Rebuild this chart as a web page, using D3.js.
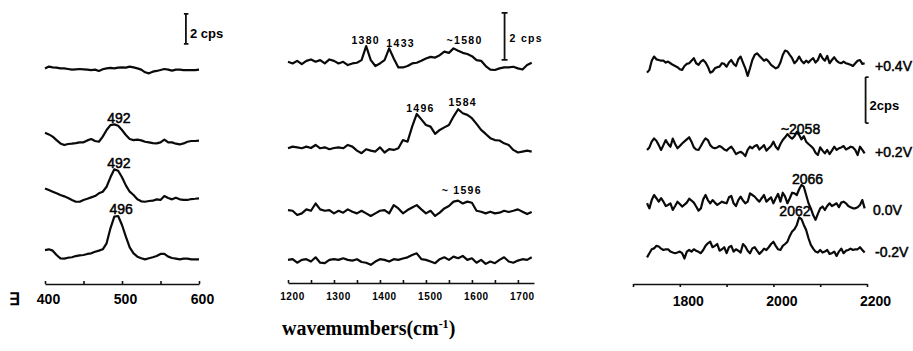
<!DOCTYPE html>
<html>
<head>
<meta charset="utf-8">
<script src="https://cdn.jsdelivr.net/npm/d3@7"></script>
<style>
  body { margin: 0; background: #fff; }
  svg { display: block; }
  text { font-family: "Liberation Sans", Arial, sans-serif; fill: #000; }
</style>
</head>
<body>
<svg id="chart" width="913" height="351"></svg>
<script>
// ---- data (intensity in cps) ----

// panel 1 : 400 - 600 cm-1
const wn1 = d3.range(400, 601, 5);
const p1Top = [0.04,0.16,0.11,0.09,0.04,0.04,0,-0.04,-0.02,0,
  -0.02,-0.04,-0.07,-0.04,-0.13,-0.02,0.04,0.07,0.04,0.09,
  0.11,0.09,0.16,0.11,0.04,-0.04,-0.22,-0.29,-0.18,-0.13,
  -0.07,0,-0.04,-0.11,-0.04,-0.04,-0.07,-0.07,-0.07,-0.07,-0.04];
const p1Second = [0.62,0.51,0.36,0.13,-0.09,-0.2,-0.13,-0.11,-0.07,-0.02,
  -0.02,0.11,0.2,0.07,0.02,0.36,0.8,1.13,1.18,1.09,
  0.8,0.47,0.2,0.13,0.16,0.11,0.02,-0.02,-0.07,-0.09,
  -0.02,0.16,-0.02,-0.02,-0.11,-0.16,-0.09,0.02,0.07,0.07,0.09];
const p1Third = [0.73,0.62,0.51,0.4,0.29,0.2,0.09,-0.04,-0.16,-0.16,
  -0.04,0.04,0.13,0.22,0.4,0.51,0.84,1.47,2.0,1.91,
  1.47,0.93,0.51,0.29,0,-0.13,-0.16,-0.11,-0.09,0,
  -0.04,0.22,0.09,0,0.11,0,-0.04,-0.04,0.02,0.04,0.07];
const p1Bottom = [0.44,0.49,0.4,0.11,-0.11,-0.13,-0.07,-0.04,0.04,0.09,
  0.11,0.18,0.22,0.33,0.4,0.49,0.89,1.89,2.67,2.71,
  2.11,1.33,0.62,0.22,0,-0.11,-0.18,-0.11,-0.04,0.04,
  0.18,0.18,0,-0.09,-0.13,-0.18,-0.13,-0.13,-0.18,-0.18,-0.18];
const p1Offsets = [13.4, 8.53, 4.71, 0.89];
const p1Major = [400, 500, 600];
const p1Minor = [450, 550];
const p1Labels = [["492", 496, 9.8], ["492", 496, 6.8], ["496", 499, 3.73]];

// panel 2 : 1200 - 1735 cm-1
const wn2 = d3.range(1200, 1731, 10);
const p2Top = [0,-0.07,0.04,-0.1,0.04,0.1,0,0.07,-0.07,0.1,
  0.04,-0.07,0,-0.14,-0.07,-0.04,0.07,0.67,0.07,-0.18,
  -0.07,0.07,0.57,0.14,-0.24,-0.24,-0.18,-0.07,-0.04,0.04,
  0.14,0.21,0.18,0.28,0.43,0.38,0.57,0.47,0.38,0.33,
  0.24,0.07,0.04,-0.18,-0.33,-0.35,-0.28,-0.24,-0.24,-0.21,
  -0.28,-0.33,-0.14,-0.04];
const p2Second = [0,0.07,0.04,0,0.07,0.01,0.14,0,0.04,-0.04,
  0.01,0.04,0,0.14,0.07,-0.1,-0.21,-0.04,-0.1,-0.14,
  0.04,-0.18,-0.04,-0.07,0,0.35,0.28,0.92,1.46,1.23,
  0.99,0.92,0.61,0.78,0.89,0.99,1.35,1.66,1.49,1.42,
  1.28,1.04,0.78,0.61,0.43,0.35,0.33,0.21,0.14,-0.07,
  -0.18,-0.14,-0.1,-0.14];
const p2Third = [0.07,0.04,-0.14,-0.07,0.1,0.04,0.35,0.1,0.04,0.07,
  -0.07,0.04,-0.04,0.1,0,-0.07,0.04,-0.07,-0.18,-0.07,
  0.04,0.07,-0.07,0.28,0.14,-0.07,0.07,0.18,0.28,0.1,
  -0.07,0.04,-0.18,-0.04,0.14,0.24,0.43,0.47,0.35,0.43,
  0.38,0.04,0,-0.07,0,-0.07,-0.04,0.04,-0.01,0.04,
  0.1,0,-0.1,-0.01];
const p2Bottom = [0.03,0.06,-0.09,0.03,0.06,-0.04,0.14,-0.09,-0.11,0.03,
  0.06,0.03,0.1,0.03,0,0.06,-0.06,-0.09,-0.18,-0.04,
  0.06,0.03,-0.04,0.06,0.03,0.09,0.14,0.24,0.31,0.06,
  0.03,-0.04,-0.11,0.06,0.14,0.03,0.17,0.1,0.2,0.03,
  0.1,-0.09,0.03,-0.14,-0.04,-0.11,0.03,0.14,-0.04,-0.09,
  0,0.06,0.03,0.14];
const p2Offsets = [8.86, 5.18, 2.48, 0.40];
const p2Major = [1200, 1300, 1400, 1500, 1600, 1700];
const p2Minor = [1250, 1350, 1450, 1550, 1650];
const p2Labels = [["1380", 1369, 9.62], ["1433", 1445, 9.49], ["~1580", 1584, 9.62],
  ["1496", 1488, 6.72], ["1584", 1580, 6.98], ["~ 1596", 1578, 3.23]];

// panel 3 : 1700 - 2200 cm-1
const wn3 = d3.range(1730, 2196, 5);
const p3Plus04 = [-0.38,-0.26,0.14,0.32,0.2,0.17,0.14,0.14,0.06,0.1,
  0.03,-0.04,-0.09,-0.14,-0.23,-0.26,-0.09,0,0.03,0.14,
  0.25,0.03,-0.04,0.1,0.17,0.06,-0.12,-0.38,-0.33,-0.19,
  -0.14,-0.12,0.03,0,-0.12,0.06,0.17,0,-0.09,0.2,
  0.32,0.06,-0.19,-0.52,-0.19,0.17,0.39,0.46,0.35,0.25,
  0.14,0.2,0.1,-0.04,-0.12,-0.19,-0.14,0.06,0.39,0.58,
  0.54,0.39,0.25,0.03,0.14,0.32,0.14,0.03,0.14,0.06,
  0.17,0.25,0.06,0.17,0.43,0.25,0.14,0.35,0.03,0.17,
  0.29,0.14,0.06,0.03,0.1,0.03,0,-0.04,-0.09,0.03,
  0.14,0.17,0,0.03];
const p3Plus02 = [-0.14,-0.03,0.22,0.36,0.26,0.07,-0.14,0.07,0.29,0.12,
  0,0.35,0.12,-0.07,0.03,0.14,0.23,0.32,0.41,0.22,
  -0.03,-0.12,-0.14,0.03,0.22,0.36,0.29,0.07,-0.03,-0.07,
  -0.03,0.03,-0.03,-0.12,-0.17,-0.07,0,-0.14,-0.32,-0.26,
  -0.22,-0.29,-0.41,-0.14,0,-0.07,0.03,0.07,-0.12,-0.03,
  0.07,-0.17,-0.07,0.03,0.22,0,-0.12,0.12,0.29,0.41,
  0.55,0.43,0.35,0.46,0.64,0.51,0.32,0.46,0.22,0.12,
  0.03,-0.07,-0.26,-0.36,-0.03,-0.17,-0.29,-0.14,-0.32,-0.17,
  0,-0.14,-0.07,-0.03,0.03,-0.12,-0.07,0,-0.03,-0.14,
  -0.36,0,-0.14,-0.29];
const p3Zero = [0,-0.22,0.14,0.36,0.22,0.07,0.22,0.07,-0.12,-0.07,
  0,-0.29,-0.12,0.07,-0.03,-0.14,-0.06,0.03,0.2,0.12,
  0.03,-0.14,-0.32,-0.22,0.17,0.36,0.14,0,0.14,0.03,
  -0.07,0,0.07,0.03,0,0.26,0.32,0,-0.12,0.14,
  0.29,0.12,0,0.07,0.43,0.36,0.29,0.17,0.07,0.22,
  0.36,0.07,0.17,0.26,0,0.22,0.41,0.07,0.46,0.29,
  0,0.22,0.46,0.43,0.36,0.61,0.8,0.72,0.36,0,
  -0.22,-0.51,-0.72,-0.46,-0.22,-0.14,-0.29,-0.12,0,-0.12,
  -0.06,0,-0.17,0.03,0.07,0,-0.12,-0.17,-0.22,-0.22,
  -0.17,-0.07,0.14,-0.22];
const p3Minus02 = [-0.25,-0.07,0.1,0.14,0.25,0.22,0.13,0.07,0.1,0.1,
  0,-0.04,-0.07,-0.04,0,-0.07,-0.3,0,0.07,0,
  0.1,0.04,-0.01,-0.07,0.07,0.25,0.36,0.43,0.19,0.25,
  0.33,0.04,0.1,0.19,-0.07,0.19,0.25,0,0.1,0.04,
  -0.04,0.33,0.22,0.04,-0.07,0.14,0.19,0.04,-0.1,0,
  0.13,0.07,0.19,0.33,0.43,0.25,0.1,0.07,0.25,0.33,
  0.43,0.68,0.87,0.97,1.16,1.49,1.41,1.16,0.94,0.58,
  0.29,0.13,0,-0.04,0.07,-0.04,0,0.07,-0.1,-0.07,
  0,-0.19,0,0.13,-0.07,0.04,0.07,0.13,0.07,0.1,
  0.1,0.19,0.07,-0.04];
const p3Offsets = [8.96, 5.36, 2.9, 0.8];
const p3Major = [1800, 2000, 2200];
const p3Minor = [1700, 1900, 2100];
const p3Labels = [["~2058", 2058, 5.91], ["2066", 2073, 3.74], ["2062", 2046, 2.35]];
const voltages = ["+0.4V", "+0.2V", "0.0V", "-0.2V"];
const voltagePos = [8.65, 4.91, 2.39, 0.57];

// ---- drawing ----
const svg = d3.select("#chart");

// scanned text looks heavier than plain regular, so give it a thin outline
function heavy(sel, w) {
  sel.attr("stroke", "#000").attr("stroke-width", w).attr("paint-order", "stroke");
}

function drawPanel(cfg) {
  const x = d3.scaleLinear().domain(cfg.xDomain).range(cfg.xRange);
  const y = d3.scaleLinear().domain(cfg.yDomain).range([270, 270 - cfg.pxPerCps * cfg.yDomain[1]]);
  const g = svg.append("g");

  const line = d3.line()
    .x(d => x(d[0]))
    .y(d => y(d[1]));

  cfg.series.forEach(function (s, i) {
    const pts = cfg.wn.map((w, j) => [w, s[j] + cfg.offsets[i]]);
    g.append("path")
      .attr("d", line(pts))
      .attr("fill", "none")
      .attr("stroke", "#0a0a0a")
      .attr("stroke-width", 2.2)
      .attr("stroke-linejoin", "round");
  });

  // axis
  const axis = d3.axisBottom(x)
    .tickValues(cfg.major)
    .tickFormat(d3.format("d"))
    .tickSizeInner(cfg.tickLen)
    .tickSizeOuter(0)
    .tickPadding(cfg.tickPad);
  const ax = g.append("g").attr("transform", "translate(0," + cfg.axisY + ")").call(axis);
  ax.select(".domain").attr("stroke", "#111").attr("stroke-width", 1.6);
  ax.selectAll(".tick line").attr("stroke", "#111").attr("stroke-width", 1.6);
  ax.selectAll(".tick text")
    .attr("fill", "#000")
    .attr("dx", cfg.tickShift)
    .style("font-family", '"Liberation Sans", Arial, sans-serif')
    .style("font-size", cfg.tickFont + "px")
    .style("font-weight", "bold")
    .style("letter-spacing", cfg.tickSpacing + "px");

  const minorAxis = d3.axisBottom(x).tickValues(cfg.minor).tickFormat("").tickSizeInner(cfg.tickLen).tickSizeOuter(0);
  const mx = g.append("g").attr("transform", "translate(0," + cfg.axisY + ")").call(minorAxis);
  mx.select(".domain").remove();
  mx.selectAll(".tick line").attr("stroke", "#111").attr("stroke-width", 1.6);

  // peak labels
  const lab = g.selectAll(".peak").data(cfg.labels).enter().append("text")
    .attr("x", d => x(d[1]))
    .attr("y", d => y(d[2]))
    .attr("text-anchor", "middle")
    .style("font-size", cfg.labelFont + "px")
    .style("font-weight", cfg.labelWeight)
    .style("letter-spacing", cfg.labelSpacing + "px")
    .text(d => d[0]);
  if (cfg.labelWeight === "normal") heavy(lab, 0.5);

  // 2 cps scale bar
  const bx = x(cfg.bar[0]), b0 = y(cfg.bar[1]), b1 = y(cfg.bar[1] + 2);
  g.append("path")
    .attr("d", "M" + (bx + cfg.barCap[0]) + "," + b1 + "H" + (bx + cfg.barCap[1]) +
      "M" + bx + "," + b1 + "V" + b0 +
      "M" + (bx + cfg.barCap[0]) + "," + b0 + "H" + (bx + cfg.barCap[1]))
    .attr("fill", "none")
    .attr("stroke", "#111")
    .attr("stroke-width", 1.8);
  g.append("text")
    .attr("x", bx + cfg.barText[0])
    .attr("y", (b0 + b1) / 2 + cfg.barText[1])
    .style("font-size", cfg.barFont + "px")
    .style("font-weight", "bold")
    .style("letter-spacing", cfg.labelSpacing + "px")
    .text(cfg.barLabel);

  return { x: x, y: y, g: g };
}

drawPanel({
  wn: wn1, series: [p1Top, p1Second, p1Third, p1Bottom], offsets: p1Offsets,
  xDomain: [400, 600], xRange: [45, 199], yDomain: [0, 16], pxPerCps: 15,
  axisY: 284, major: p1Major, minor: p1Minor, tickLen: -3, tickPad: 10, tickFont: 14, tickSpacing: 0, tickShift: 3,
  labels: p1Labels, labelFont: 14, labelWeight: "normal", labelSpacing: 0,
  bar: [583, 15.07], barCap: [-2, 2.5], barText: [4, 9], barFont: 13, barLabel: "2 cps"
});

drawPanel({
  wn: wn2, series: [p2Top, p2Second, p2Third, p2Bottom], offsets: p2Offsets,
  xDomain: [1200, 1735], xRange: [288, 534], yDomain: [0, 10], pxPerCps: 23.5,
  axisY: 283, major: p2Major, minor: p2Minor, tickLen: -3, tickPad: 10, tickFont: 10, tickSpacing: 0.6, tickShift: 4,
  labels: p2Labels, labelFont: 10.5, labelWeight: "bold", labelSpacing: 1.3,
  bar: [1671, 8.94], barCap: [-3, 3], barText: [5, 6], barFont: 10.5, barLabel: "2 cps"
});

const p3 = drawPanel({
  wn: wn3, series: [p3Plus04, p3Plus02, p3Zero, p3Minus02], offsets: p3Offsets,
  xDomain: [1700, 2200], xRange: [633, 867], yDomain: [0, 10], pxPerCps: 23,
  axisY: 284, major: p3Major, minor: p3Minor, tickLen: 3, tickPad: 9, tickFont: 14, tickSpacing: 0, tickShift: 8,
  labels: p3Labels, labelFont: 14, labelWeight: "normal", labelSpacing: 0,
  bar: [2197, 6.39], barCap: [0, 3], barText: [4, 10], barFont: 13, barLabel: "2cps"
});

// voltage labels on the right of panel 3
const volt = p3.g.selectAll(".volt").data(voltages).enter().append("text")
  .attr("x", (d, i) => (i === 2 ? 873 : 875))
  .attr("y", (d, i) => p3.y(voltagePos[i]))
  .style("font-size", "14px")
  .text(d => d);
heavy(volt, 0.5);

// stray mark at the lower left of the scan
svg.append("text")
  .attr("x", 9).attr("y", 305)
  .style("font-size", "17px").style("font-weight", "bold")
  .text("\u2203");

// shared x title
const title = svg.append("text")
  .attr("x", 282).attr("y", 335)
  .style("font-family", '"Liberation Serif", "Times New Roman", serif')
  .style("font-size", "20px").style("font-weight", "bold");
title.append("tspan").text("wavemumbers(cm");
title.append("tspan").attr("dy", -7).style("font-size", "12px").text("-1");
title.append("tspan").attr("dy", 7).text(")");
</script>
</body>
</html>
